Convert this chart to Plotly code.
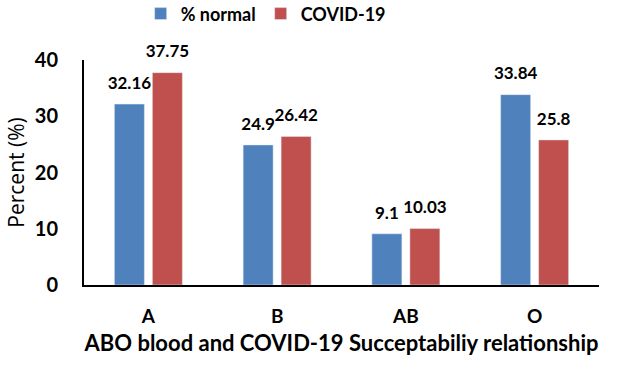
import plotly.graph_objects as go

categories = ["A", "B", "AB", "O"]
normal = [32.16, 24.9, 9.1, 33.84]
covid = [37.75, 26.42, 10.03, 25.8]
normal_labels = ["32.16", "24.9", "9.1", "33.84"]
covid_labels = ["37.75", "26.42", "10.03", "25.8"]

FONT = "Lato"
BLUE = "#4F81BD"
RED = "#C0504D"
BG = 0.41

fig = go.Figure()
fig.add_trace(go.Bar(x=categories, y=normal, name="% normal", marker_color=BLUE,
                     offsetgroup="n"))
fig.add_trace(go.Bar(x=categories, y=covid, name="COVID-19", marker_color=RED,
                     offsetgroup="c"))
for vals, labs, grp in [(normal, normal_labels, "n"), (covid, covid_labels, "c")]:
    fig.add_trace(go.Scatter(x=categories, y=vals, text=labs, mode="markers+text",
                             textposition="top center", offsetgroup=grp,
                             marker=dict(size=16, opacity=0), showlegend=False,
                             hoverinfo="skip", cliponaxis=False,
                             textfont=dict(size=17, color="black", family=FONT, weight="bold")))

fig.update_layout(
    width=622, height=366,
    margin=dict(l=84, r=23, t=60, b=81),
    paper_bgcolor="white", plot_bgcolor="white",
    barmode="group", bargap=BG, bargroupgap=0.21,
    scattermode="group", scattergap=BG,
    font=dict(family=FONT, size=16, color="black", weight="bold"),
    legend=dict(orientation="h", x=0.11, xanchor="left", y=0.962, yanchor="middle",
                yref="container", font=dict(size=18, family=FONT, weight="bold"),
                tracegroupgap=0),
    xaxis=dict(showline=True, linecolor="black", linewidth=2, ticks="", automargin=False,
               tickfont=dict(size=19, family=FONT, weight="bold"), ticklabelstandoff=13,
               title=dict(text="ABO blood and COVID-19 Succeptabiliy relationship",
                          font=dict(size=22, family=FONT, weight="bold"), standoff=10)),
    yaxis=dict(range=[0, 40], dtick=10, showline=True, linecolor="black", linewidth=2,
               showgrid=False, zeroline=False, ticks="", ticklabelstandoff=20, automargin=False,
               tickfont=dict(size=20, family=FONT, weight="bold"),
               title=dict(text="Percent (%)", font=dict(size=21, family="Open Sans", weight="normal"),
                          standoff=4)),
)
fig.write_html("out.html", config={"displayModeBar": False},
               post_script="document.body.style.margin='0';document.body.style.padding='0';")
